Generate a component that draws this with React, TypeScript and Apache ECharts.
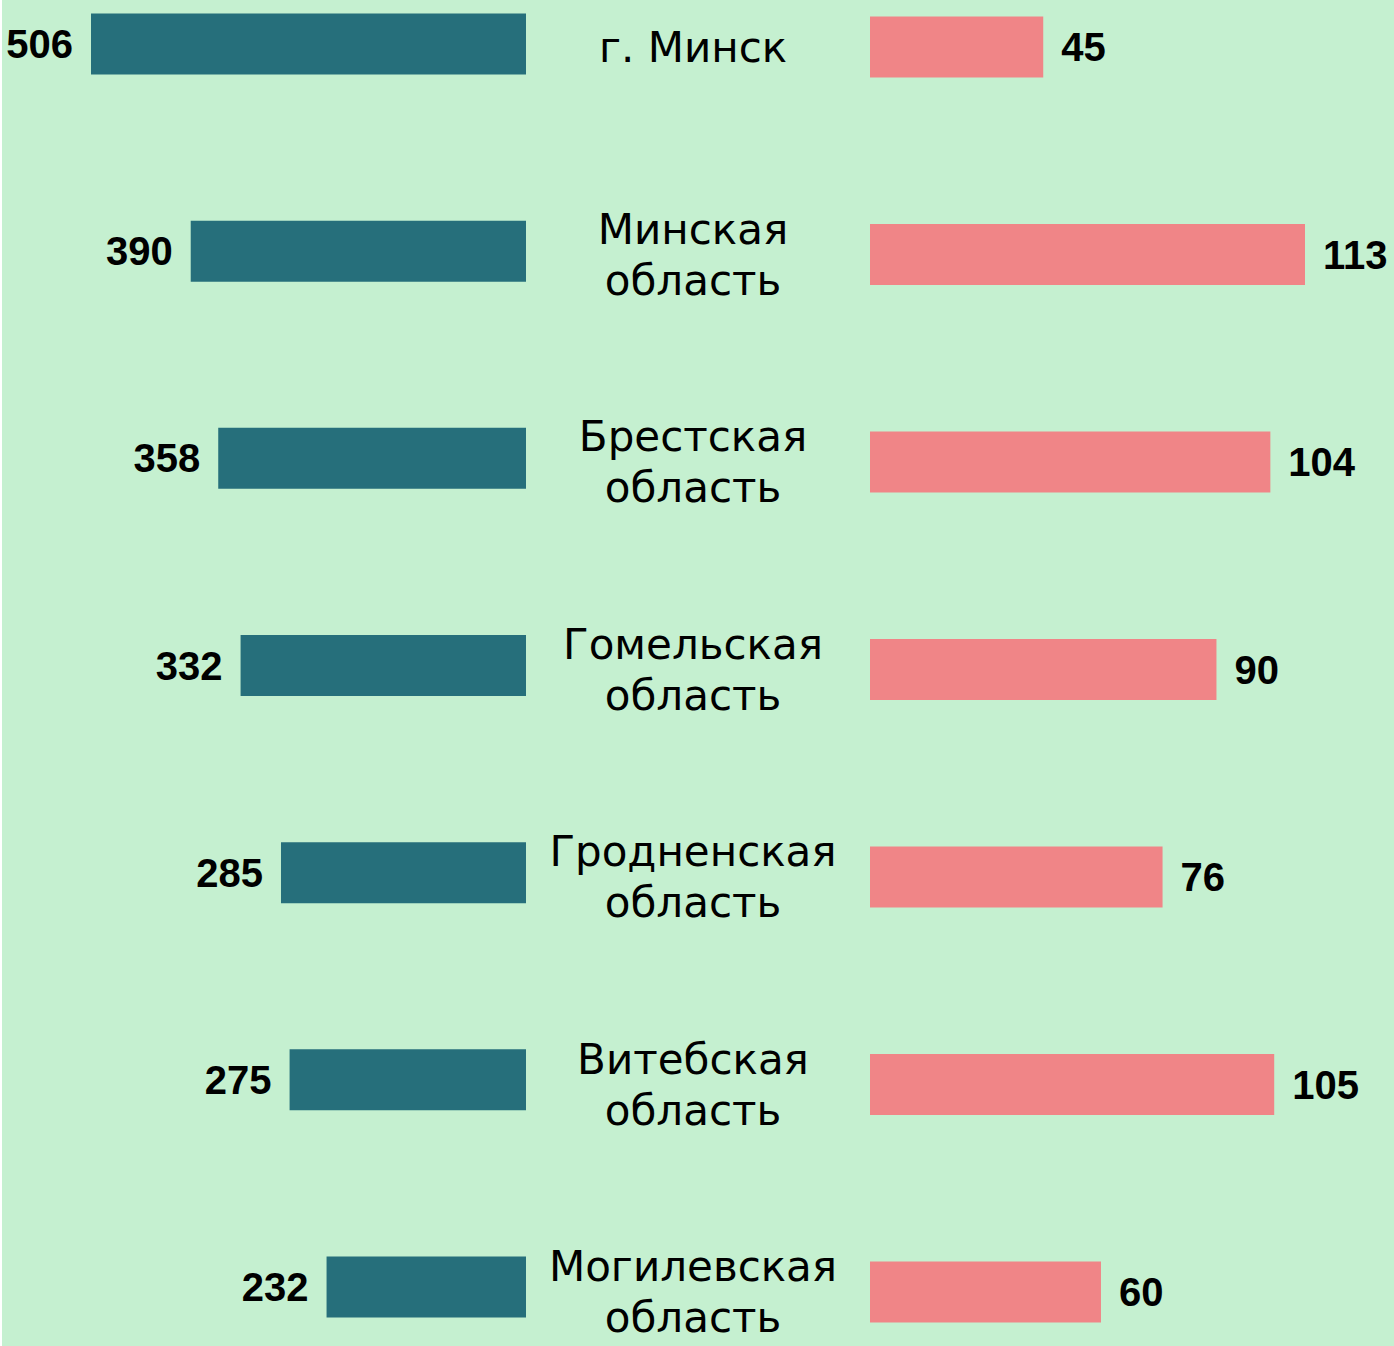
import React, { useEffect, useRef } from "react";
import * as echarts from "echarts";

const categories = [
  "г. Минск",
  "Минская\nобласть",
  "Брестская\nобласть",
  "Гомельская\nобласть",
  "Гродненская\nобласть",
  "Витебская\nобласть",
  "Могилевская\nобласть",
];
const leftValues = [506, 390, 358, 332, 285, 275, 232];
const rightValues = [45, 113, 104, 90, 76, 105, 60];

const BG = "#c5f0d0";
const TEAL = "#266f7b";
const PINK = "#f08587";

export default function App() {
  const ref = useRef<HTMLDivElement>(null);
  useEffect(() => {
    if (!ref.current) return;
    const chart = echarts.init(ref.current, null, { renderer: "svg" });
    const valueLabel = {
      show: true,
      fontFamily: "Liberation Sans",
      fontWeight: "bold",
      fontSize: 40,
      color: "#000",
      distance: 18,
    };
    chart.setOption({
      animation: false,
      backgroundColor: BG,
      graphic: [
        { type: "rect", left: 0, top: 0, shape: { width: 2, height: 1346 }, style: { fill: "#ffffff" }, silent: true },
      ],
      grid: [
        { left: 91, width: 435, top: 44, height: 1243 },
        { left: 870, width: 435, top: 47, height: 1245 },
      ],
      xAxis: [
        { type: "value", gridIndex: 0, min: 0, max: 506, inverse: true, show: false },
        { type: "value", gridIndex: 1, min: 0, max: 113, show: false },
      ],
      yAxis: [
        {
          type: "category",
          gridIndex: 0,
          data: categories,
          inverse: true,
          boundaryGap: false,
          axisLine: { show: false },
          axisTick: { show: false },
          axisLabel: { show: false },
          splitLine: { show: false },
        },
        {
          type: "category",
          gridIndex: 1,
          data: categories,
          inverse: true,
          boundaryGap: false,
          axisLine: { show: false },
          axisTick: { show: false },
          splitLine: { show: false },
          axisLabel: {
            show: true,
            interval: 0,
            margin: 177,
            align: "center",
            fontFamily: "DejaVu Sans",
            fontSize: 42,
            lineHeight: 51,
            color: "#000",
          },
        },
      ],
      series: [
        {
          type: "bar",
          xAxisIndex: 0,
          yAxisIndex: 0,
          data: leftValues,
          barWidth: 61,
          itemStyle: { color: TEAL },
          label: { ...valueLabel, position: "left" },
        },
        {
          type: "bar",
          xAxisIndex: 1,
          yAxisIndex: 1,
          data: rightValues,
          barWidth: 61,
          itemStyle: { color: PINK },
          label: { ...valueLabel, position: "right" },
        },
      ],
    });
    return () => chart.dispose();
  }, []);
  return (
    <div style={{ position: "absolute", left: 0, top: 0, width: 1394, height: 1346, overflow: "hidden" }}>
      <div ref={ref} style={{ width: 1394, height: 1346 }} />
    </div>
  );
}
